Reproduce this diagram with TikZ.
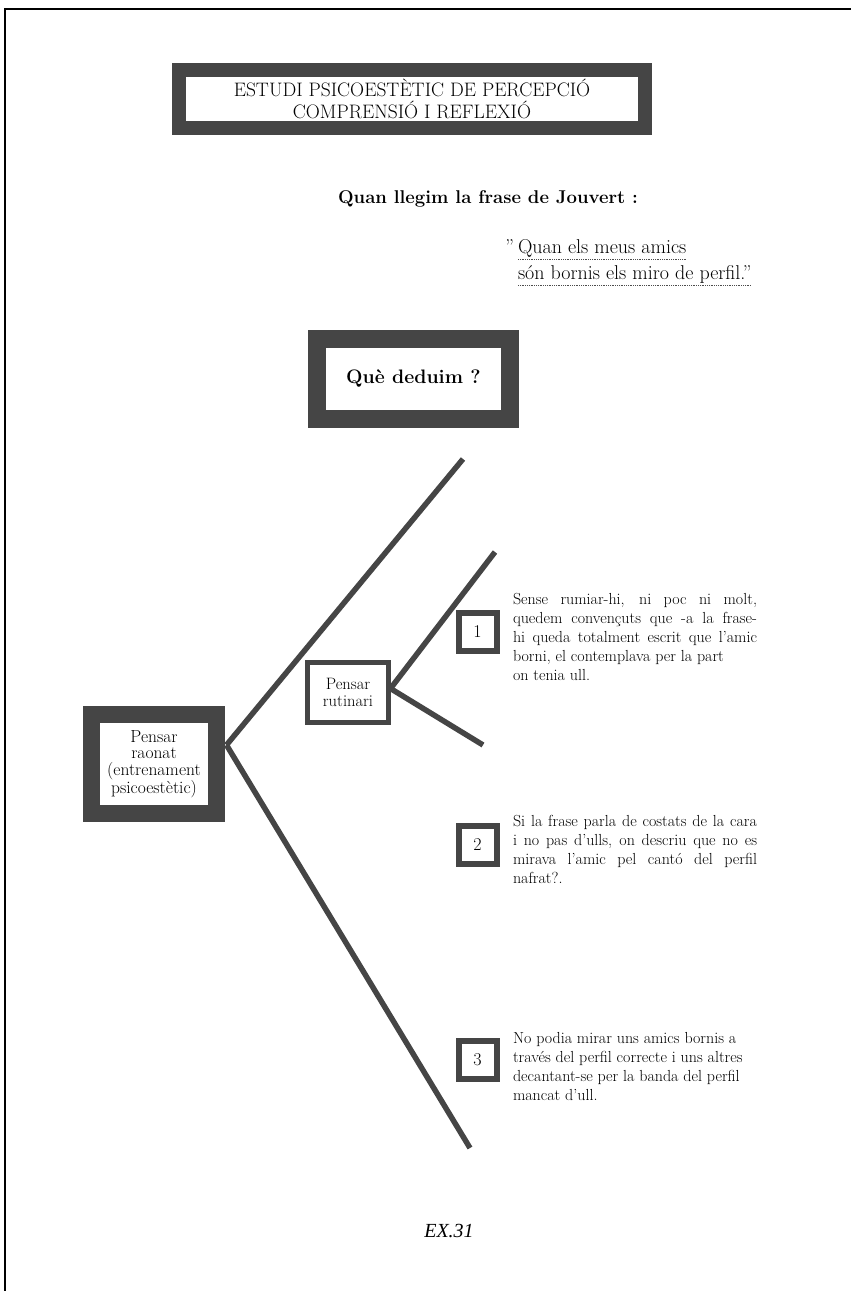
\documentclass[tikz,border=0pt]{standalone}
\usepackage{fontspec}
\usepackage{tikz}
\usetikzlibrary{positioning, calc}
\newfontfamily\exfont{Liberation Serif}
\definecolor{trama}{gray}{0.27}
\newcommand{\linia}[1]{\makebox[244pt][s]{#1}}

\begin{document}
\begin{tikzpicture}[
            x=1pt, y=-1pt,
            every node/.style={inner sep=0pt, outer sep=0pt},
            % Estils dels marcs i de les branques
            marcgros/.style={rectangle, draw=trama, fill=white, align=center},
            marcprim/.style={rectangle, draw=trama, line width=5pt, fill=white, align=center, font=\fontsize{16.5}{17.5}\selectfont},
            numbox/.style={rectangle, draw=trama, line width=6pt, fill=white, minimum width=38pt, minimum height=38pt, font=\fontsize{18}{20}\selectfont},
            nota/.style={align=left, anchor=north west, font=\fontsize{16}{19}\selectfont},
            branca/.style={draw=trama, line width=5.5pt},
            subratllat/.style={draw=black!70, densely dotted, line width=0.8pt}
        ]

            \useasboundingbox (0,0) rectangle (851,1291);
            \draw [line width=1.5pt] (5,1291) -- (5,9) -- (851,9);

            % --- Capçalera ---
            \node (titol) [marcgros, line width=14pt, minimum width=466pt, minimum height=58pt, font=\fontsize{19.5}{22}\selectfont] at (412,99) {ESTUDI PSICOESTÈTIC DE PERCEPCIÓ\\COMPRENSIÓ I REFLEXIÓ};

            \node (frase) [font=\bfseries\fontsize{18.5}{21}\selectfont] at (488,199) {Quan llegim la frase de Jouvert :};

            \node (cita1) [anchor=base west, font=\fontsize{20}{26}\selectfont] at (518,253) {Quan els meus amics};
            \node (cometa) [left=4pt of cita1.base west, anchor=base east, font=\fontsize{20}{26}\selectfont] {''};
            \node (cita2) [anchor=base west, font=\fontsize{20}{26}\selectfont] at (518,279) {són bornis els miro de perfil.''};

            \node (pregunta) [marcgros, line width=18pt, minimum width=193pt, minimum height=80pt, font=\bfseries\fontsize{19.5}{22}\selectfont] at (413.5,379) {Què deduim ?};

            % --- Arbre ---
            \node (raonat) [marcgros, line width=17pt, minimum width=125pt, minimum height=99pt, font=\fontsize{17.5}{16.5}\selectfont] at (154,764) {Pensar\\raonat\\(entrenament\\psicoestètic)};

            \node (rutinari) [marcprim, minimum width=81pt, minimum height=60pt] at (348,692.5) {Pensar\\rutinari};

            \node (num1) [numbox] at (477.5,631.5) {1};
            \node (num2) [numbox] at (477.5,845) {2};
            \node (num3) [numbox] at (477.5,1060) {3};

            \node (nota1) [nota, right=16.5pt of num1.north east, anchor=north west, yshift=19.5pt] {\linia{Sense rumiar-hi, ni poc ni molt,}\\\linia{quedem convençuts que -a la frase-}\\\linia{hi queda totalment escrit que l'amic}\\borni, el contemplava per la part\\on tenia ull.};

            \node (nota2) [nota, right=16.5pt of num2.north east, anchor=north west, yshift=11pt] {\linia{Si la frase parla de costats de la cara}\\\linia{i no pas d'ulls, on descriu que no es}\\\linia{mirava l'amic pel cantó del perfil}\\nafrat?.};

            \node (nota3) [nota, right=16.5pt of num3.north east, anchor=north west, yshift=9pt] {No podia mirar uns amics bornis a\\través del perfil correcte i uns altres\\decantant-se per la banda del perfil\\mancat d'ull.};

            \node (exemple) [font=\exfont\itshape\fontsize{20}{24}\selectfont] at (449,1231) {EX.31};

            % --- Punts de les branques ---
            \coordinate (nus) at ($(raonat.east)+(10,-19)$);
            \coordinate (nusrut) at ($(rutinari.east)+(2,-4)$);
            \coordinate (capdalt) at (463,459);
            \coordinate (capbaix) at (470,1148);
            \coordinate (rutdalt) at (495,552);
            \coordinate (rutbaix) at (483,745);

            % --- Connexions ---
            \draw [branca] (nus) -- (capdalt);
            \draw [branca] (nus) -- (capbaix);
            \draw [branca] (nusrut) -- (rutdalt);
            \draw [branca] (nusrut) -- (rutbaix);

            \draw [subratllat] ($(cita1.base west)+(0,6)$) -- ($(cita1.base east)+(0,6)$);
            \draw [subratllat] ($(cita2.base west)+(0,6)$) -- ($(cita2.base east)+(0,6)$);

        \end{tikzpicture}
\end{document}
